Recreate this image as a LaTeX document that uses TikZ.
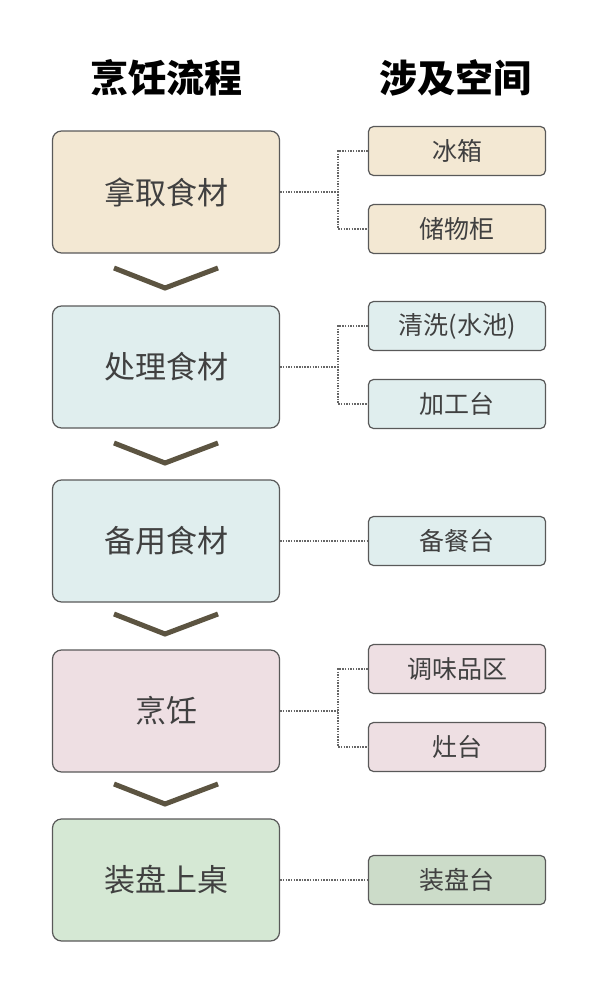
\documentclass[tikz,border=0pt]{standalone}
\usepackage{fontspec}
\setmainfont{Noto Sans CJK SC}
\begin{document}
\begin{tikzpicture}[x=1pt,y=-1pt,
 big/.style={draw=black!65,line width=1.2pt,rounded corners=9pt,minimum width=227pt,minimum height=122pt,font=\fontsize{31}{31}\selectfont,text=black!75},
 sm/.style={draw=black!65,line width=1.2pt,rounded corners=5pt,minimum width=177pt,minimum height=49pt,font=\fontsize{25}{25}\selectfont,text=black!75},
 dot/.style={dash pattern=on 1.5pt off 1.2pt,line width=1.6pt,black!60},
 chev/.style={line width=5pt,color={rgb,255:red,92;green,84;blue,65}},
 hd/.style={font=\fontsize{38}{38}\selectfont\bfseries}]
\useasboundingbox (0,0) rectangle (600,993);
\definecolor{cA}{HTML}{F3E8D3}\definecolor{cB}{HTML}{E0EEEE}
\definecolor{cC}{HTML}{EEDFE3}\definecolor{cD}{HTML}{D5E8D4}\definecolor{cE}{HTML}{CCDCC9}
\node[hd] (h1) at (166,78) {烹饪流程};
\node[hd] (h2) at (455,78) {涉及空间};
\node[big,fill=cA] (b1) at (166,192) {拿取食材};
\node[big,fill=cB] (b2) at (166,367) {处理食材};
\node[big,fill=cB] (b3) at (166,541) {备用食材};
\node[big,fill=cC] (b4) at (166,711) {烹饪};
\node[big,fill=cD] (b5) at (166,880) {装盘上桌};
\foreach \y in {268,443,614,784}{\draw[chev] (114,\y) -- (165,\y+20) -- (218,\y);}
\node[sm,fill=cA] (r1) at (457,151) {冰箱};
\node[sm,fill=cA] (r2) at (457,229) {储物柜};
\node[sm,fill=cB] (r3) at (457,326) {清洗(水池)};
\node[sm,fill=cB] (r4) at (457,404) {加工台};
\node[sm,fill=cB] (r5) at (457,541) {备餐台};
\node[sm,fill=cC] (r6) at (457,669) {调味品区};
\node[sm,fill=cC] (r7) at (457,747) {灶台};
\node[sm,fill=cE] (r8) at (457,880) {装盘台};
\coordinate (j) at (338,0);
\foreach \b/\a/\c in {b1/r1/r2,b2/r3/r4,b4/r6/r7}{
 \draw[dot] (\b.east) -- (j |- \b.east);
 \draw[dot] (\a.west) -| (j |- \b.east) |- (\c.west);
}
\draw[dot] (b3.east) -- (r5.west);
\draw[dot] (b5.east) -- (r8.west);
\end{tikzpicture}
\end{document}
